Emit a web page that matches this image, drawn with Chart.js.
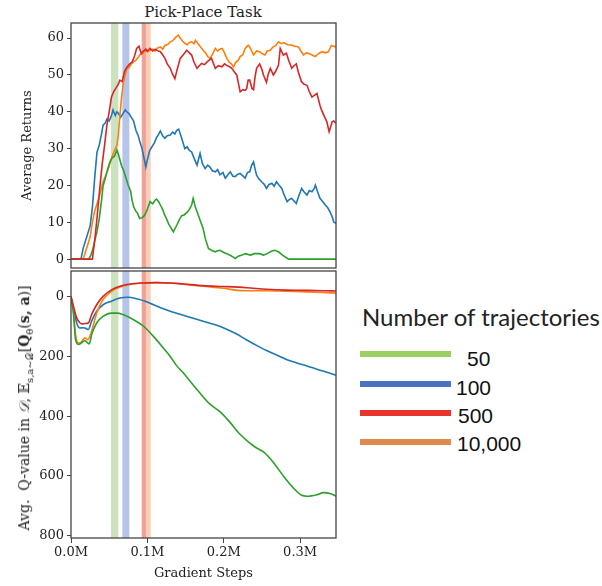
<!DOCTYPE html>
<html lang="en">
<head>
<meta charset="UTF-8">
<title>Pick-Place Task</title>
<script src="https://cdn.jsdelivr.net/npm/chart.js"></script>
<style>
  body { margin: 0; background: #fff; }
  #wrap { position: relative; width: 602px; height: 586px; overflow: hidden; }
  canvas { position: absolute; left: 0; }
  .serif { font-family: "DejaVu Serif", serif; color: #222; }
  #title { position: absolute; left: 203px; top: 12px; transform: translate(-50%, -50%); font-size: 15px; white-space: nowrap; }
  #qlabel { position: absolute; left: 26px; top: 408px; transform: translate(-50%, -50%) rotate(-90deg); font-size: 14px; white-space: nowrap; }
  #qlabel sub { font-size: 10px; }
  #legendTitle { position: absolute; left: 362px; top: 302px; font: 24px Lato, sans-serif; color: #222; white-space: nowrap; }
  .legLine { position: absolute; left: 360px; width: 91px; height: 6px; }
  .legText { position: absolute; font: 21px "Liberation Sans", Arial, sans-serif; color: #111; transform: translateY(-50%); }
</style>
</head>
<body>
<div id="wrap">
  <div id="title" class="serif">Pick-Place Task</div>
  <canvas id="top" width="340" height="270" style="top:0"></canvas>
  <canvas id="bottom" width="340" height="318" style="top:268px"></canvas>
  <div id="qlabel" class="serif">Avg.&nbsp; Q-value in <i>𝒟</i>, 𝔼<sub>s,a∼𝒟</sub>[<b>Q</b><sub>θ</sub>(<b>s, a</b>)]</div>
  <div id="legendTitle">Number of trajectories</div>
</div>
<script>
// series names (number of trajectories)
const trajLabels = ["50", "100", "500", "10,000"]

// top panel: average returns, [gradient steps (M), return]
const returns50 = [[0,0],[0.023,0],[0.026,1],[0.029,3],[0.031,5],[0.034,7.4],[0.037,11],[0.040,16],[0.042,19.9],[0.045,22],[0.048,24.5],[0.051,26.4],[0.054,27.5],[0.057,28],[0.060,29.6],[0.062,28.5],[0.064,27],[0.066,25.5],[0.069,24],[0.072,22],[0.075,20],[0.078,18.5],[0.080,16],[0.082,14.2],[0.085,13],[0.087,12.5],[0.090,11],[0.093,11.2],[0.096,11.8],[0.099,13],[0.1035,15.6],[0.107,15],[0.110,16],[0.112,16.3],[0.115,15.5],[0.117,14.7],[0.120,13.5],[0.123,11.8],[0.125,11],[0.128,9.5],[0.131,8.5],[0.134,7.4],[0.1385,9.2],[0.142,10.8],[0.145,11.8],[0.148,12],[0.152,12.7],[0.155,13.5],[0.158,14.7],[0.160,16.5],[0.163,14],[0.167,11.8],[0.170,10],[0.173,8.3],[0.176,5.5],[0.180,2.9],[0.185,2.3],[0.189,2.0],[0.192,2.3],[0.195,2.4],[0.200,1.8],[0.204,1.5],[0.209,1],[0.212,0.6],[0.215,0.2],[0.219,0.8],[0.224,1.1],[0.228,1.5],[0.235,1.1],[0.240,1.5],[0.247,1.5],[0.252,1.1],[0.257,1.5],[0.263,2.2],[0.267,2.4],[0.2717,2.0],[0.277,1.1],[0.2848,0],[0.347,0]]
const returns100 = [[0,0],[0.013,0],[0.016,3],[0.019,5],[0.022,7],[0.025,9],[0.028,14],[0.031,22],[0.034,29],[0.037,31],[0.040,34],[0.042,36.4],[0.045,37],[0.047,38],[0.050,37.5],[0.053,39],[0.055,40.5],[0.058,39],[0.060,40],[0.062,39.6],[0.065,38.5],[0.068,39.5],[0.071,40.5],[0.073,40],[0.076,39.5],[0.079,38.5],[0.082,37.5],[0.085,35],[0.088,33.5],[0.090,32],[0.093,30],[0.096,27],[0.098,25],[0.100,27],[0.103,29.5],[0.106,30.5],[0.109,31.5],[0.112,33],[0.115,34],[0.117,34.8],[0.120,33.5],[0.123,32.8],[0.126,33.5],[0.130,33.7],[0.133,34.5],[0.136,34],[0.1385,35],[0.141,35.3],[0.145,32.8],[0.149,30],[0.152,30.5],[0.155,29.5],[0.158,29.1],[0.161,27.5],[0.165,25.5],[0.169,28.7],[0.172,26],[0.1756,24.6],[0.179,25.5],[0.182,25],[0.185,24],[0.189,23.7],[0.192,24.3],[0.195,22.9],[0.199,23.5],[0.202,22],[0.205,22.8],[0.2085,23.7],[0.212,22.5],[0.215,22.4],[0.218,23],[0.2215,23.3],[0.225,22.6],[0.228,22],[0.231,23.5],[0.234,23.7],[0.2365,25.5],[0.239,26.4],[0.241,24.5],[0.243,22.8],[0.246,21.8],[0.2495,21],[0.253,20.3],[0.256,19.2],[0.259,20.2],[0.263,20.6],[0.266,19.8],[0.269,21],[0.272,20.2],[0.276,19.2],[0.279,17.5],[0.283,15.6],[0.286,16.2],[0.289,16.5],[0.292,15.8],[0.295,15.1],[0.298,17],[0.302,19.2],[0.305,18.3],[0.309,17.4],[0.312,18.6],[0.3155,18.3],[0.318,19],[0.320,20.1],[0.323,18.2],[0.326,16.5],[0.329,15.8],[0.333,14.7],[0.336,14],[0.339,12.9],[0.342,11.5],[0.344,10.1],[0.347,9.7]]
const returns500 = [[0,0],[0.028,0],[0.031,5],[0.034,11],[0.038,20],[0.041,26],[0.044,31],[0.047,36.4],[0.050,40],[0.053,44],[0.056,45.5],[0.059,46.5],[0.062,47.5],[0.064,48.6],[0.067,48.2],[0.070,50.9],[0.073,52],[0.077,53],[0.080,53.5],[0.083,55],[0.086,57.2],[0.089,57.8],[0.092,55.8],[0.095,56.5],[0.098,57],[0.1,56.5],[0.1035,57.2],[0.107,56.5],[0.110,57],[0.113,56.6],[0.117,56.3],[0.120,55.5],[0.123,54.5],[0.126,53],[0.130,51.8],[0.133,50.2],[0.136,49],[0.139,51.5],[0.143,54.5],[0.147,55.5],[0.1516,56.7],[0.155,56],[0.158,55.4],[0.161,53.5],[0.165,51.8],[0.168,52.5],[0.171,53.1],[0.175,52.8],[0.178,53.5],[0.181,54],[0.184,54.5],[0.189,51.8],[0.193,52.5],[0.1975,52.2],[0.201,53],[0.204,52.6],[0.207,52.3],[0.2106,51.8],[0.214,50.8],[0.217,50],[0.219,48],[0.2215,45.4],[0.225,46],[0.228,45.8],[0.230,46.3],[0.232,48.6],[0.234,48.6],[0.237,46.3],[0.239,46],[0.241,49.5],[0.243,51.8],[0.247,53],[0.250,51.5],[0.252,50],[0.256,48],[0.258,50],[0.261,51.8],[0.265,50],[0.268,51],[0.2717,52.7],[0.274,57.2],[0.278,55.4],[0.282,55.9],[0.285,54],[0.289,51.8],[0.292,52.5],[0.295,53],[0.298,50.5],[0.302,48.1],[0.305,47.5],[0.309,47.2],[0.312,45.5],[0.3155,44],[0.319,44.5],[0.322,45],[0.326,41.8],[0.328,40.5],[0.331,39.1],[0.335,37.3],[0.338,34.6],[0.342,37.3],[0.344,37.5],[0.347,36.9]]
const returns10000 = [[0,0],[0.016,0],[0.019,2],[0.022,4],[0.025,6],[0.028,10],[0.031,13],[0.034,15],[0.037,17],[0.040,19.5],[0.042,21],[0.045,22.5],[0.048,24],[0.051,26],[0.053,27.3],[0.056,29],[0.058,30],[0.060,30.8],[0.062,33.7],[0.064,39],[0.066,43.5],[0.0686,48],[0.071,50],[0.073,51.6],[0.076,52],[0.079,53],[0.082,53.6],[0.085,54],[0.088,54.8],[0.090,55.4],[0.093,55.8],[0.096,56.5],[0.1,56.3],[0.1035,56.7],[0.107,57],[0.110,56.5],[0.113,57.3],[0.117,57.6],[0.120,57],[0.123,58],[0.127,58.3],[0.130,59],[0.133,59.3],[0.137,60.2],[0.1406,60.8],[0.143,60],[0.146,59.2],[0.149,58.6],[0.152,58.2],[0.155,58.8],[0.158,59],[0.161,58.5],[0.163,59.4],[0.166,58.5],[0.170,57.5],[0.173,56.7],[0.176,56],[0.179,55],[0.182,54.5],[0.185,55.5],[0.189,57.2],[0.192,56.5],[0.195,57],[0.198,57.2],[0.201,56],[0.204,54.5],[0.207,53.5],[0.210,53],[0.2127,52.2],[0.216,53.5],[0.219,54],[0.2215,55],[0.225,55.5],[0.228,57.2],[0.232,58.1],[0.234,57.6],[0.236,56.7],[0.239,55.4],[0.243,56.5],[0.247,56.3],[0.250,55.8],[0.254,55.4],[0.257,56.5],[0.261,56.7],[0.264,57.5],[0.268,58],[0.2717,59],[0.275,58.5],[0.278,58.8],[0.280,58.6],[0.284,58.2],[0.289,58.1],[0.293,57.8],[0.298,57.6],[0.301,56.5],[0.3045,55.4],[0.308,56],[0.311,55.9],[0.315,55.5],[0.3198,55],[0.324,55.8],[0.3285,56.3],[0.333,56],[0.337,56.3],[0.341,58],[0.344,57.8],[0.347,57.6]]

// bottom panel: avg Q-value, [gradient steps (M), value]
const q50 = [[0,0],[0.003,50],[0.006,144],[0.0096,160],[0.0135,155],[0.018,147],[0.022,155],[0.024,158],[0.027,127],[0.0336,88],[0.042,66],[0.053,55],[0.060,55],[0.068,60],[0.082,77],[0.095,99],[0.108,133],[0.121,172],[0.130,200],[0.138,230],[0.147,255],[0.155,280],[0.168,320],[0.182,360],[0.195,385],[0.208,420],[0.221,460],[0.239,500],[0.252,520],[0.265,555],[0.278,600],[0.291,640],[0.302,665],[0.309,668],[0.322,663],[0.331,656],[0.340,660],[0.347,668]]
const q100 = [[0,0],[0.003,35],[0.0075,88],[0.0118,105],[0.015,104],[0.0183,105],[0.0227,110],[0.027,82],[0.0336,49],[0.042,27],[0.053,15],[0.064,4.5],[0.075,2],[0.086,6.7],[0.097,15],[0.108,27],[0.130,49],[0.152,66],[0.173,82],[0.190,95],[0.203,108],[0.217,125],[0.230,145],[0.243,163],[0.256,180],[0.270,196],[0.282,210],[0.296,222],[0.309,232],[0.322,243],[0.335,253],[0.347,263]]
const q500 = [[0,0],[0.003,30],[0.0075,71],[0.0118,88],[0.015,91],[0.0183,90],[0.0227,88],[0.027,60],[0.0336,27],[0.042,-1],[0.053,-23],[0.064,-35],[0.077,-42.5],[0.095,-46],[0.112,-47],[0.130,-46],[0.147,-42.5],[0.173,-37],[0.200,-34],[0.230,-30],[0.256,-25],[0.282,-22],[0.309,-21],[0.330,-20],[0.347,-19]]
const q10000 = [[0,0],[0.003,45],[0.006,127],[0.0096,155],[0.0135,152],[0.018,138],[0.022,144],[0.027,116],[0.0336,55],[0.042,10],[0.053,-18],[0.064,-32],[0.077,-41],[0.095,-46],[0.112,-47],[0.130,-46],[0.147,-42],[0.173,-35],[0.200,-28],[0.215,-22],[0.230,-20],[0.256,-20],[0.282,-18],[0.309,-16],[0.330,-14],[0.347,-12]]

// shaded bands marking each run's best point, [start, end] in M steps
const bandRanges = [[0.0524, 0.0620], [0.0673, 0.0764], [0.0926, 0.0983], [0.0983, 0.1044]]

// axis ticks
const xTicks = [0, 0.1, 0.2, 0.3]
const returnTicks = [0, 10, 20, 30, 40, 50, 60]
const qTicks = [0, 200, 400, 600, 800]

// styles
const lineColors = ["#2ca02c", "#1f77b4", "#d62728", "#ff7f0e"]
const bandColors = ["rgba(110,170,70,0.35)", "rgba(70,110,200,0.40)", "rgba(228,70,50,0.50)", "rgba(240,150,100,0.45)"]
const legendColors = ["#9ccf62", "#4b72c3", "#e8352c", "#df8a4c"]
const legendRows = [{ y: 354, tx: 467, ty: 359 }, { y: 384, tx: 456, ty: 388 }, { y: 413, tx: 458, ty: 416 }, { y: 442, tx: 457, ty: 444 }]

const serif = { family: "DejaVu Serif", size: 13 }
const frameColor = "#444"

const bandsPlugin = {
  id: "bands",
  beforeDatasetsDraw(chart) {
    const { ctx, chartArea: a, scales: { x } } = chart
    ctx.save()
    bandRanges.forEach(([s, e], i) => {
      const x0 = x.getPixelForValue(s), x1 = x.getPixelForValue(e)
      ctx.fillStyle = bandColors[i]
      ctx.fillRect(x0, a.top, x1 - x0, a.bottom - a.top)
    })
    ctx.restore()
  }
}

const framePlugin = {
  id: "frame",
  afterDraw(chart) {
    const { ctx, chartArea: a } = chart
    ctx.save()
    ctx.strokeStyle = frameColor
    ctx.lineWidth = 1.3
    ctx.strokeRect(a.left, a.top, a.right - a.left, a.bottom - a.top)
    ctx.restore()
  }
}

const toPts = arr => arr.map(([x, y]) => ({ x, y }))

// draw order: red on top, then green, orange, blue
function makeSets(s50, s100, s500, s10000, smooth) {
  const sets = [
    { label: trajLabels[2], data: toPts(s500), borderColor: lineColors[2] },
    { label: trajLabels[0], data: toPts(s50), borderColor: lineColors[0] },
    { label: trajLabels[3], data: toPts(s10000), borderColor: lineColors[3] },
    { label: trajLabels[1], data: toPts(s100), borderColor: lineColors[1] },
  ]
  sets.forEach(d => {
    d.borderWidth = 1.6
    d.pointRadius = 0
    d.fill = false
    if (smooth) d.cubicInterpolationMode = "monotone"
  })
  return sets
}

// fixed axis width, and no extra room reserved for the end tick labels
const yAxisCommon = {
  afterFit: s => { s.width = 71; s.paddingTop = 0; s.paddingBottom = 0 },
  ticks: { font: serif, color: "#222", padding: 3 },
  grid: { drawOnChartArea: false, tickLength: 4, color: frameColor },
  border: { display: false },
}

new Chart(document.getElementById("top"), {
  type: "line",
  data: { datasets: makeSets(returns50, returns100, returns500, returns10000, false) },
  options: {
    responsive: false,
    animation: false,
    layout: { padding: { left: 0, right: 4, top: 23, bottom: 2 } },
    plugins: { legend: { display: false }, tooltip: { enabled: false } },
    scales: {
      x: { type: "linear", min: 0, max: 0.347, display: false },
      y: {
        ...yAxisCommon,
        min: -2.4, max: 64.1,
        afterBuildTicks: s => { s.ticks = returnTicks.map(v => ({ value: v })) },
        title: { display: true, text: "Average Returns", font: serif, color: "#222", padding: { top: 20 } },
      }
    }
  },
  plugins: [bandsPlugin, framePlugin]
})

new Chart(document.getElementById("bottom"), {
  type: "line",
  data: { datasets: makeSets(q50, q100, q500, q10000, true) },
  options: {
    responsive: false,
    animation: false,
    layout: { padding: { left: 0, right: 4, top: 3, bottom: 0 } },
    plugins: { legend: { display: false }, tooltip: { enabled: false } },
    scales: {
      x: {
        type: "linear", min: 0, max: 0.347,
        afterFit: s => { s.height = 48; s.paddingLeft = 0; s.paddingRight = 0 },
        afterBuildTicks: s => { s.ticks = xTicks.map(v => ({ value: v })) },
        ticks: { font: serif, color: "#222", padding: 2, maxRotation: 0, callback: v => v.toFixed(1) + "M" },
        grid: { drawOnChartArea: false, tickLength: 5, color: frameColor },
        border: { display: false },
        title: { display: true, text: "Gradient Steps", font: serif, color: "#222", padding: { bottom: 5 } },
      },
      y: {
        ...yAxisCommon,
        reverse: true,
        min: -86, max: 808,
        afterBuildTicks: s => { s.ticks = qTicks.map(v => ({ value: v })) },
      }
    }
  },
  plugins: [bandsPlugin, framePlugin]
})

// legend for the number of trajectories
const wrap = document.getElementById("wrap")
trajLabels.forEach((lab, i) => {
  const line = document.createElement("div")
  line.className = "legLine"
  line.style.top = (legendRows[i].y - 3) + "px"
  line.style.background = legendColors[i]
  wrap.appendChild(line)
  const txt = document.createElement("div")
  txt.className = "legText"
  txt.style.left = legendRows[i].tx + "px"
  txt.style.top = legendRows[i].ty + "px"
  txt.textContent = lab
  wrap.appendChild(txt)
})
</script>
</body>
</html>
